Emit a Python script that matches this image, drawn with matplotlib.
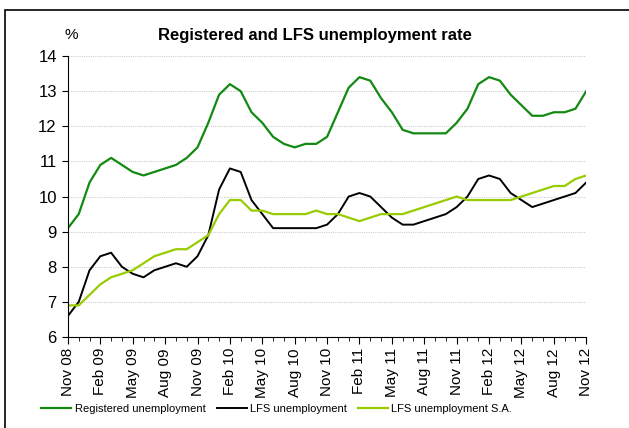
import numpy as np
import matplotlib
matplotlib.use('Agg')
import matplotlib.pyplot as plt
from matplotlib.patches import Rectangle
from matplotlib.ticker import MultipleLocator

plt.rcParams['font.family'] = ['Liberation Sans', 'DejaVu Sans']

# monthly values, Nov 08 .. Nov 12
registered = [9.1, 9.5, 10.4, 10.9, 11.1, 10.9, 10.7, 10.6, 10.7, 10.8, 10.9, 11.1,
              11.4, 12.1, 12.9, 13.2, 13.0, 12.4, 12.1, 11.7, 11.5, 11.4, 11.5, 11.5,
              11.7, 12.4, 13.1, 13.4, 13.3, 12.8, 12.4, 11.9, 11.8, 11.8, 11.8, 11.8,
              12.1, 12.5, 13.2, 13.4, 13.3, 12.9, 12.6, 12.3, 12.3, 12.4, 12.4, 12.5,
              13.0]
lfs = [6.6, 7.0, 7.9, 8.3, 8.4, 8.0, 7.8, 7.7, 7.9, 8.0, 8.1, 8.0,
       8.3, 8.9, 10.2, 10.8, 10.7, 9.9, 9.5, 9.1, 9.1, 9.1, 9.1, 9.1,
       9.2, 9.5, 10.0, 10.1, 10.0, 9.7, 9.4, 9.2, 9.2, 9.3, 9.4, 9.5,
       9.7, 10.0, 10.5, 10.6, 10.5, 10.1, 9.9, 9.7, 9.8, 9.9, 10.0, 10.1,
       10.4]
lfs_sa = [6.9, 6.9, 7.2, 7.5, 7.7, 7.8, 7.9, 8.1, 8.3, 8.4, 8.5, 8.5,
          8.7, 8.9, 9.5, 9.9, 9.9, 9.6, 9.6, 9.5, 9.5, 9.5, 9.5, 9.6,
          9.5, 9.5, 9.4, 9.3, 9.4, 9.5, 9.5, 9.5, 9.6, 9.7, 9.8, 9.9,
          10.0, 9.9, 9.9, 9.9, 9.9, 9.9, 10.0, 10.1, 10.2, 10.3, 10.3, 10.5,
          10.6]
tick_labels = ['Nov 08', 'Feb 09', 'May 09', 'Aug 09', 'Nov 09', 'Feb 10', 'May 10',
               'Aug 10', 'Nov 10', 'Feb 11', 'May 11', 'Aug 11', 'Nov 11', 'Feb 12',
               'May 12', 'Aug 12', 'Nov 12']

x = np.arange(len(registered))

fig = plt.figure(figsize=(6.29, 4.28), dpi=100)
ax = fig.add_axes([0.108, 0.2126, 0.824, 0.6564])

# outer frame (clipped at right and bottom like the source)
fig.patches.append(Rectangle((5 / 629, -0.05), 1.1, 1.05 - 10 / 428,
                             transform=fig.transFigure, fill=False,
                             edgecolor='black', lw=1.2))

for v in range(7, 15):
    ax.axhline(v, color='#d0d0d0', lw=0.8, ls=(0, (1, 1)), zorder=0)

ax.plot(x, registered, color='#128a12', lw=1.6, label='Registered unemployment')
ax.plot(x, lfs, color='black', lw=1.4, label='LFS unemployment')
ax.plot(x, lfs_sa, color='#99cc00', lw=1.6, label='LFS unemployment S.A.')

ax.set_xlim(0, len(x) - 1)
ax.set_ylim(6, 14)
ax.set_xticks(x[::3])
ax.set_xticklabels(tick_labels, rotation=90, fontsize=11)
ax.xaxis.set_minor_locator(MultipleLocator(1))
ax.yaxis.set_major_locator(MultipleLocator(1))
ax.tick_params(axis='y', labelsize=12, length=4, direction='out', pad=4)
ax.tick_params(axis='x', which='major', length=5, direction='out', pad=3)
ax.tick_params(axis='x', which='minor', length=3, direction='out')
for side in ['top', 'right']:
    ax.spines[side].set_visible(False)

fig.text(0.5, 0.918, 'Registered and LFS unemployment rate', ha='center',
         va='center', fontsize=12, fontweight='bold')
fig.text(0.103, 0.918, '%', ha='left', va='center', fontsize=11)

fig.legend(loc='center', bbox_to_anchor=(0.44, 0.045), ncol=3, frameon=False,
           fontsize=8, handlelength=2.7, columnspacing=1.0, handletextpad=0.3)

fig.savefig('out.png', dpi=100)
